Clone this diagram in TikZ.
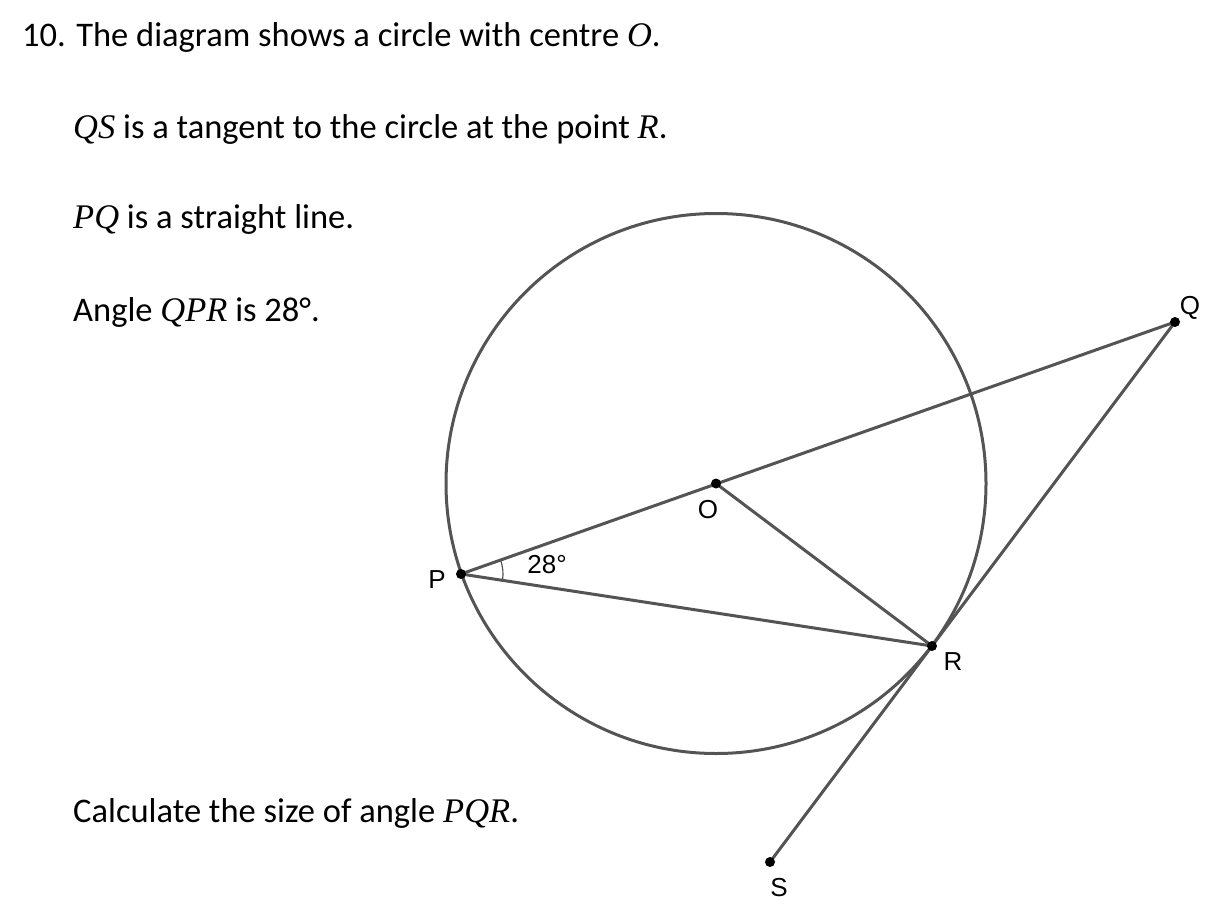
\documentclass[tikz,border=0pt]{standalone}
\usepackage{fontspec}
\setmainfont{Carlito}
\newfontfamily\labfont{Liberation Sans}
\newfontfamily\mvarfont{Liberation Serif}
\newcommand\mv[1]{{\mvarfont\itshape #1}}
\begin{document}
\begin{tikzpicture}[x=1pt,y=-1pt,
  geo/.style={draw=black!67,line width=3pt},
  dotpt/.style={circle,fill=black,inner sep=0pt,minimum size=10pt},
  lab/.style={font=\labfont\fontsize{26}{26}\selectfont,inner sep=0pt},
  txt/.style={font=\fontsize{34.5}{40}\selectfont,anchor=base west,inner sep=0pt}]
\useasboundingbox (0,0) rectangle (1205,907);
\node[txt] (t1) at (22,47) {10. The diagram shows a circle with centre \mv{O}.};
\node[txt] (t2) at (73,138) {\mv{QS} is a tangent to the circle at the point \mv{R}.};
\node[txt] (t3) at (73,228) {\mv{PQ} is a straight line.};
\node[txt] (t4) at (73,321) {Angle \mv{QPR} is 28°.};
\node[txt] (t5) at (73,822) {Calculate the size of angle \mv{PQR}.};
\coordinate (O) at (716,483.5);
\coordinate (P) at (461,574);
\coordinate (Q) at (1175,322);
\coordinate (R) at (932,646);
\coordinate (S) at (770,862);
\draw[geo] (O) circle[radius=270];
\draw[geo] (P) -- (Q);
\draw[geo] (P) -- (R);
\draw[geo] (O) -- (R);
\draw[geo] (Q) -- (S);
\draw[draw=black!67,line width=1.2pt] ([shift={(8.7:42)}]P) arc[start angle=8.7,end angle=-19.5,radius=42];
\node[dotpt] (dP) at (P) {};
\node[dotpt] (dO) at (O) {};
\node[dotpt] (dQ) at (Q) {};
\node[dotpt] (dR) at (R) {};
\node[dotpt] (dS) at (S) {};
\node[lab] (lP) at (437,580) {P};
\node[lab] (lA) at (547,565) {28°};
\node[lab] (lO) at (708,510) {O};
\node[lab] (lQ) at (1190,308) {Q};
\node[lab] (lR) at (953,662) {R};
\node[lab] (lS) at (779,888) {S};
\end{tikzpicture}
\end{document}
